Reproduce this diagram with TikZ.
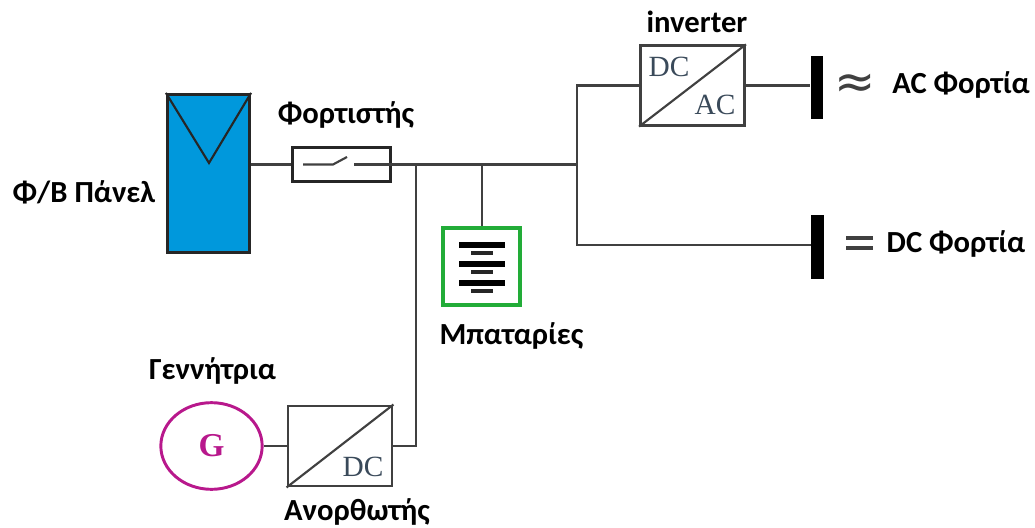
\documentclass[tikz,border=0pt]{standalone}
\usepackage{fontspec}
\setmainfont{Carlito}
\newfontfamily\dcfont{Liberation Serif}
\newfontfamily\symfont{DejaVu Sans}
\usetikzlibrary{shapes.geometric}
\definecolor{panelblue}{HTML}{0098DC}
\definecolor{batgreen}{HTML}{22AC38}
\definecolor{genmag}{HTML}{B8188C}
\definecolor{wirec}{HTML}{404040}
\definecolor{dctext}{HTML}{3A4A5A}
\tikzset{
  x=0.75pt,y=-0.75pt,
  lbl/.style={font=\fontsize{23pt}{25pt}\selectfont\bfseries,text=black,inner sep=0pt,anchor=center},
  wire/.style={draw=wirec,line width=1.6pt},
  conv/.style={draw=wirec,line width=2.2pt,fill=white,inner sep=0pt,rectangle},
  dctxt/.style={font=\dcfont\fontsize{22pt}{24pt}\selectfont,text=dctext,inner sep=0pt},
  loadbar/.style={fill=black,draw=none,inner sep=0pt,rectangle,minimum width=9.4pt,minimum height=47.5pt},
  plate/.style={fill=black,draw=none,inner sep=0pt,rectangle,minimum width=34.5pt,minimum height=5pt},
  subplate/.style={fill=black!85,draw=none,inner sep=0pt,rectangle,minimum width=16.5pt,minimum height=2.8pt},
  eqbar/.style={draw=none,fill=wirec,inner sep=0pt,rectangle,minimum width=20pt,minimum height=3pt}
}
\begin{document}
\begin{tikzpicture}
\useasboundingbox (0,0) rectangle (1035,528);
% coordinates of the wiring
\coordinate (j1) at (416,164.5);
\coordinate (j2) at (482,164.5);
\coordinate (j3) at (577,164.5);
\coordinate (up) at (577,85.5);
\coordinate (dn) at (577,245);
\coordinate (rect) at (416,446);
% Panel
\node[draw=black!85,line width=2.4pt,fill=panelblue,inner sep=0pt,minimum width=61.5pt,minimum height=118.5pt] (panel) at (208.5,173.5) {};
\coordinate (apex) at (209,163);
\draw[black!85,line width=1.6pt,line join=miter] (panel.north west) -- (apex) -- (panel.north east);
\node[lbl] (panellbl) at (84,192) {Φ/Β Πάνελ};
% Charger
\node[draw=black!85,line width=2.2pt,fill=white,inner sep=0pt,minimum width=74pt,minimum height=26pt] (chg) at (341.5,164.5) {};
\coordinate (s1) at (303,164.5);
\coordinate (s2) at (333,164.5);
\coordinate (s3) at (347,157);
\coordinate (s4) at (354,164.5);
\draw[wirec,line width=1.6pt] (s1) -- (s2) -- (s3);
\draw[wirec,line width=1.6pt] (s4) -- (chg.east);
\node[lbl] (chglbl) at (346,115) {Φορτιστής};
% Inverter
\node[conv,minimum width=78pt,minimum height=59.5pt] (inv) at (692.5,85.5) {};
\draw[wirec,line width=1.6pt] (inv.south west) -- (inv.north east);
\node[dctxt] (invdc) at (669,67) {DC};
\node[dctxt] (invac) at (715,105) {AC};
\node[lbl] (invlbl) at (697,22) {inverter};
% Load bars
\node[loadbar] (acbar) at (817,87.5) {};
\node[loadbar] (dcbar) at (817.5,247) {};
\node[font=\symfont\fontsize{37pt}{37pt}\selectfont,inner sep=0pt,text=wirec] (approx) at (855,86) {≈};
\node[lbl] (aclbl) at (961,85) {AC Φορτία};
\node[eqbar] (eq1) at (859.5,237.5) {};
\node[eqbar] (eq2) at (859.5,247.5) {};
\node[lbl] (dclbl) at (956,244) {DC Φορτία};
% Battery
\node[draw=batgreen,line width=2.8pt,fill=white,inner sep=0pt,minimum width=58pt,minimum height=58pt] (bat) at (481.5,266.5) {};
\node[plate] (p1) at (482,245) {};
\node[plate] (p2) at (482,264) {};
\node[plate] (p3) at (482,283) {};
\node[subplate] (q1) at (482,253) {};
\node[subplate] (q2) at (482,272) {};
\node[subplate] (q3) at (482,291) {};
\node[lbl] (batlbl) at (511.5,336) {Μπαταρίες};
% Generator
\node[ellipse,draw=genmag,line width=2.2pt,fill=white,inner sep=0pt,minimum width=76pt,minimum height=65pt] (gen) at (211.5,446) {};
\node[font=\dcfont\fontsize{25pt}{26pt}\selectfont\bfseries,text=genmag,inner sep=0pt] (g) at (211.5,446) {G};
\node[lbl] (genlbl) at (212.5,371) {Γεννήτρια};
% Rectifier
\node[conv,minimum width=78pt,minimum height=60pt] (rec) at (340,446) {};
\draw[wirec,line width=1.6pt] (rec.south west) -- (rec.north east);
\node[dctxt] (recdc) at (363,467) {DC};
\node[lbl] (reclbl) at (357,512) {Ανορθωτής};
% Wiring
\draw[wire] (chg.west -| panel.east) -- (chg.west);
\draw[wire] (chg.east) -- (j1) -- (j2) -- (j3);
\draw[wire] (j2) -- (bat.north -| j2);
\draw[wire] (rec.east) -- (rect) -- (j1);
\draw[wire] (gen.east) -- (rec.west);
\draw[wire] (inv.west) -- (up) -- (j3) -- (dn) -- (dn -| dcbar.west);
\draw[wire] (inv.east) -- (inv.east -| acbar.west);
\end{tikzpicture}
\end{document}
